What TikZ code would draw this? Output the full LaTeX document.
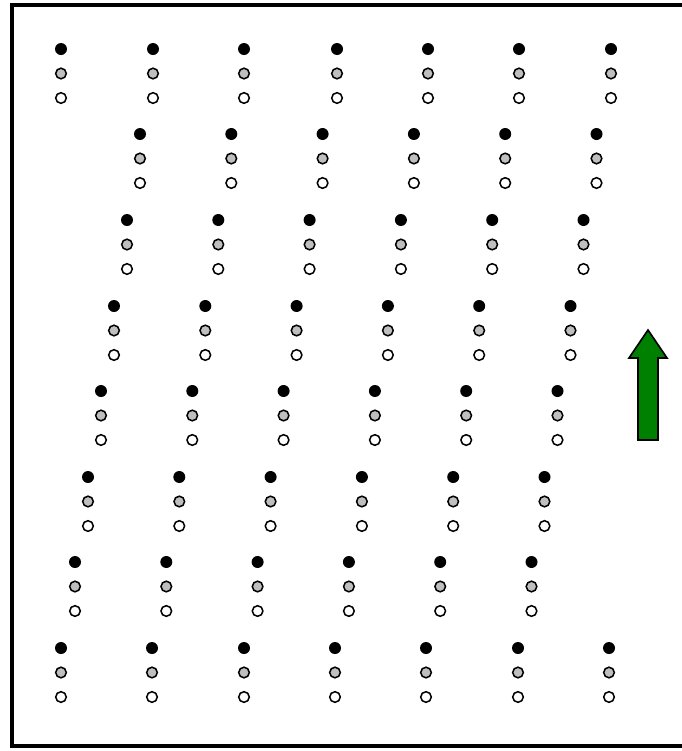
\documentclass[tikz,border=0pt]{standalone}
\usepackage{tikz}
\usetikzlibrary{calc}

\begin{document}
\begin{tikzpicture}[
  x=0.03cm,y=-0.03cm,
  line join=miter,
  frame/.style={draw=black,line width=3.6pt},
  topdot/.style={fill=black},
  middot/.style={draw=black,fill=black!25,line width=1.3pt},
  lowdot/.style={draw=black,fill=white,line width=1.3pt},
  uparrow/.style={draw=black,fill=green!50!black,line width=1.4pt}
]
\useasboundingbox (0,0) rectangle (682,751);
\clip (0,0) rectangle (682,751);

% frame (right side runs off the page)
\draw[frame] (12,5) rectangle (700,746);

% top row
\foreach \px in {61,153,244,337,428,519,611} {
  \fill[topdot] (\px,49) circle [radius=6];
  \draw[middot] (\px,73.5) circle [radius=5.3];
  \draw[lowdot] (\px,98) circle [radius=5.3];
}

% slanted rows
\foreach \py/\px in {134/140,220/127,306/114,391/101,477/88,562/75} {
  \foreach \k in {0,...,5} {
    \fill[topdot] ($(\px,\py)+(91.3*\k,0)$) circle [radius=6];
    \draw[middot] ($(\px,\py)+(91.3*\k,24.5)$) circle [radius=5.3];
    \draw[lowdot] ($(\px,\py)+(91.3*\k,49)$) circle [radius=5.3];
  }
}

% bottom row
\foreach \px in {61,152,244,335,426,518,609} {
  \fill[topdot] (\px,648) circle [radius=6];
  \draw[middot] (\px,672.5) circle [radius=5.3];
  \draw[lowdot] (\px,697) circle [radius=5.3];
}

% arrow
\draw[uparrow] (648,330) -- (667,358) -- (658,358) -- (658,440)
  -- (638,440) -- (638,358) -- (629,358) -- cycle;

\end{tikzpicture}
\end{document}
